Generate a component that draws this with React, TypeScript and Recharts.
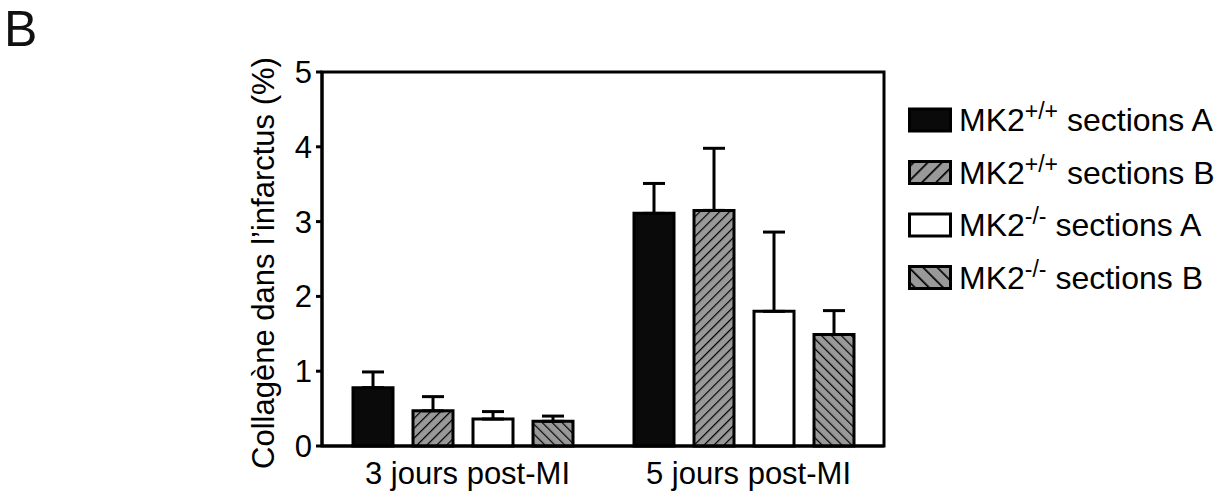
import { BarChart, Bar, XAxis, YAxis, ErrorBar, ReferenceArea } from "recharts";

const FONT = '"Liberation Sans", Arial, Helvetica, sans-serif';

// collagen in the infarct zone (%), mean and upper SEM per timepoint
const categories = ["3 jours post-MI", "5 jours post-MI"];
const wtA = [0.78, 3.11];
const wtAErr = [0.21, 0.4];
const wtB = [0.47, 3.15];
const wtBErr = [0.19, 0.83];
const koA = [0.36, 1.8];
const koAErr = [0.1, 1.06];
const koB = [0.33, 1.49];
const koBErr = [0.07, 0.32];
const yTicks = [0, 1, 2, 3, 4, 5];

const genotypes = ["+/+", "+/+", "-/-", "-/-"];
const sections = ["A", "B", "A", "B"];

const series = [
  { key: "wtA", fill: "#0a0a0a", legendFill: "#0a0a0a" },
  { key: "wtB", fill: "url(#hatchUp)", legendFill: "url(#legendUp)" },
  { key: "koA", fill: "#ffffff", legendFill: "#ffffff" },
  { key: "koB", fill: "url(#hatchDown)", legendFill: "url(#legendDown)" },
];

const rows = categories.map((group, i) => ({
  group,
  wtA: wtA[i],
  wtAErr: [0, wtAErr[i]],
  wtB: wtB[i],
  wtBErr: [0, wtBErr[i]],
  koA: koA[i],
  koAErr: [0, koAErr[i]],
  koB: koB[i],
  koBErr: [0, koBErr[i]],
}));

const axisLine = { stroke: "#000", strokeWidth: 3 };

function Hatch({ id, angle, size, thick }: { id: string; angle: number; size: number; thick: number }) {
  return (
    <pattern id={id} patternUnits="userSpaceOnUse" width={size} height={size} patternTransform={`rotate(${angle})`}>
      <rect width={size} height={size} fill="#999999" />
      <line x1={0} y1={0} x2={0} y2={size} stroke="#000" strokeWidth={thick * 2} />
    </pattern>
  );
}

function YLabel({ viewBox }: any) {
  const x = viewBox.x + 274;
  const y = viewBox.y + viewBox.height / 2 + 4;
  return (
    <text x={x} y={y} transform={`rotate(-90, ${x}, ${y})`} textAnchor="middle" fontSize={31} fontFamily={FONT} fill="#000">
      Collagène dans l’infarctus (%)
    </text>
  );
}

function LegendBox() {
  return (
    <svg width={325} height={230} style={{ position: "absolute", left: 900, top: 90 }}>
      <defs>
        <Hatch id="legendUp" angle={45} size={10} thick={1.7} />
        <Hatch id="legendDown" angle={-45} size={10} thick={1.7} />
      </defs>
      {series.map((s, i) => {
        const cy = 30 + i * 52.5;
        return (
          <g key={s.key}>
            <rect x={9.5} y={cy - 11} width={41} height={22} fill={s.legendFill} stroke="#000" strokeWidth={3} />
            <text x={59} y={cy + 11} fontSize={32} fontFamily={FONT} fill="#000">
              MK2
              <tspan fontSize={23} dy={-12}>{genotypes[i]}</tspan>
              <tspan dy={12}>{` sections ${sections[i]}`}</tspan>
            </text>
          </g>
        );
      })}
    </svg>
  );
}

export default function App() {
  return (
    <div style={{ position: "absolute", left: 0, top: 0, width: 1225, height: 498, background: "#fff" }}>
      <BarChart
        width={1225}
        height={498}
        data={rows}
        margin={{ top: 72, right: 341, left: 0, bottom: 0 }}
        barSize={40}
        barGap={20}
      >
        <defs>
          <Hatch id="hatchUp" angle={45} size={7} thick={1.2} />
          <Hatch id="hatchDown" angle={-45} size={7} thick={1.2} />
        </defs>
        <XAxis
          dataKey="group"
          interval={0}
          height={52}
          tickLine={false}
          tickSize={0}
          tickMargin={16}
          axisLine={axisLine}
          tick={{ fontSize: 31, fill: "#000", fontFamily: FONT, dx: 5 }}
        />
        <YAxis
          domain={[0, 5]}
          ticks={yTicks}
          width={322}
          tickSize={6}
          tickMargin={4}
          axisLine={axisLine}
          tickLine={{ stroke: "#000", strokeWidth: 3 }}
          tick={{ fontSize: 31, fill: "#000", fontFamily: FONT }}
          label={<YLabel />}
        />
        {/* frame around the plot area */}
        <ReferenceArea y1={0} y2={5} fill="none" stroke="#000" strokeWidth={3} ifOverflow="visible" />
        {series.map((s) => (
          <Bar key={s.key} dataKey={s.key} fill={s.fill} stroke="#000" strokeWidth={3} isAnimationActive={false}>
            <ErrorBar dataKey={`${s.key}Err`} direction="y" width={11} stroke="#000" strokeWidth={3} />
          </Bar>
        ))}
      </BarChart>
      <svg width={70} height={60} style={{ position: "absolute", left: 0, top: 0 }}>
        <text x={4} y={46} fontSize={50} fontFamily={FONT} fill="#111">
          B
        </text>
      </svg>
      <LegendBox />
    </div>
  );
}
